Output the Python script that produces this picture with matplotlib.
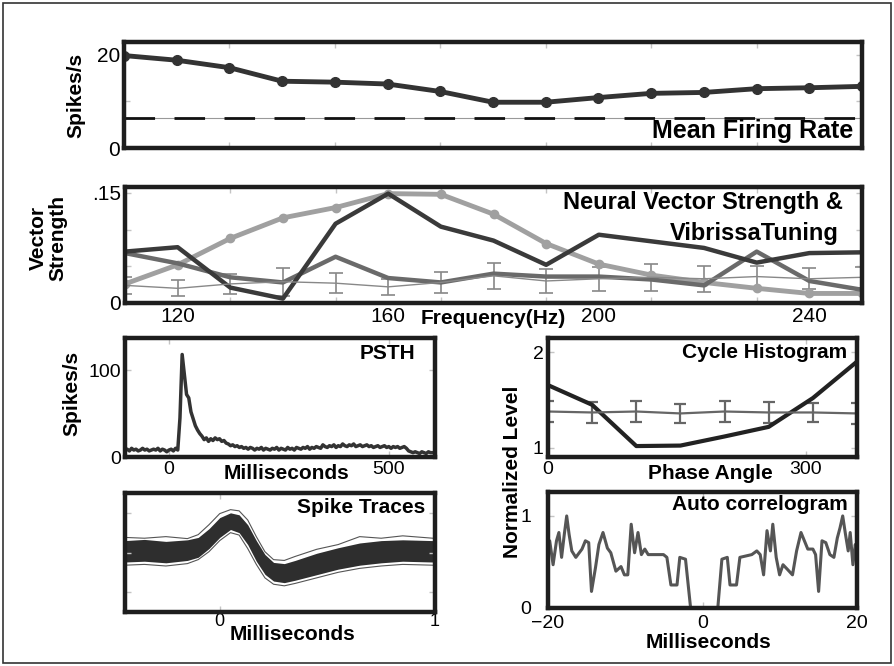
import matplotlib.pyplot as plt
import numpy as np
from matplotlib.patches import Rectangle

plt.rcParams['font.family'] = ['Liberation Sans', 'DejaVu Sans']

# ---- values ----
freq_hz = [110, 120, 130, 140, 150, 160, 170, 180, 190, 200, 210, 220, 230, 240, 250]
mean_rate = [19.8, 18.8, 17.2, 14.3, 14.1, 13.7, 12.1, 9.8, 9.8, 10.8, 11.7, 11.9, 12.7, 12.9, 13.2]
spont_rate = 6.5

vs_light = [0.026, 0.052, 0.088, 0.116, 0.130, 0.149, 0.148, 0.121, 0.081, 0.053, 0.038, 0.028, 0.020, 0.013, 0.013]
vs_dark = [0.070, 0.076, 0.021, 0.006, 0.108, 0.149, 0.104, 0.085, 0.052, 0.093, 0.084, 0.075, 0.055, 0.068, 0.069]
vs_mid = [0.068, 0.054, 0.035, 0.028, 0.063, 0.034, 0.028, 0.040, 0.036, 0.036, 0.032, 0.024, 0.070, 0.030, 0.018]
vs_base = [0.024, 0.020, 0.026, 0.029, 0.027, 0.022, 0.028, 0.037, 0.030, 0.033, 0.035, 0.033, 0.036, 0.033, 0.035]
vs_err = [0.012, 0.011, 0.014, 0.019, 0.014, 0.011, 0.014, 0.018, 0.016, 0.016, 0.018, 0.018, 0.015, 0.014, 0.014]

# PSTH, 5 ms bins starting at -100 ms
psth_rate = [8, 9, 7, 10, 8, 9, 7, 8, 10, 8, 9, 7, 8, 9, 8, 10, 7, 9, 8, 6, 8, 9, 7, 10, 8,
             45, 118, 95, 72, 68, 52, 44, 36, 31, 27, 24, 20, 22, 18, 21, 19, 22, 20, 21, 18,
             19, 16, 15, 13, 14, 12, 13, 11, 12, 10, 11,
             9, 11, 10, 8, 10, 9, 11, 8, 10, 9, 8, 10, 9, 11, 8, 10, 9, 8, 11, 9, 10, 8, 11,
             10, 9, 11, 10, 12, 9, 11, 10, 12, 11, 10,
             14, 12, 11, 13, 12, 14, 11, 13, 12, 15, 13, 12, 14, 13, 15, 12, 13, 14, 12, 13,
             14, 12, 13, 11, 12, 13, 11, 12, 13, 11, 12, 10, 12, 11, 12, 10, 11,
             12, 10, 7, 6, 5, 6, 5, 4, 6, 5, 4, 6, 5, 5]

# spike waveform (ms, arbitrary units)
spike_t = [-0.44, -0.35, -0.25, -0.15, -0.10, -0.05, 0.00, 0.05, 0.09, 0.13, 0.17,
           0.21, 0.25, 0.30, 0.35, 0.45, 0.55, 0.65, 0.75, 0.85, 0.99]
spike_hi = [0.30, 0.33, 0.28, 0.32, 0.38, 0.60, 0.88, 1.00, 0.95, 0.70, 0.30,
            -0.05, -0.25, -0.28, -0.20, -0.02, 0.12, 0.24, 0.30, 0.32, 0.30]
spike_lo = [-0.24, -0.22, -0.26, -0.20, -0.12, 0.10, 0.38, 0.58, 0.50, 0.20, -0.22,
            -0.55, -0.72, -0.76, -0.70, -0.56, -0.42, -0.32, -0.26, -0.22, -0.24]
spike_up_trace = [0.38, 0.36, 0.40, 0.35, 0.45, 0.70, 0.98, 1.08, 1.05, 0.82, 0.40,
                  0.02, -0.18, -0.20, -0.10, 0.08, 0.20, 0.40, 0.36, 0.42, 0.36]
spike_dn_trace = [-0.32, -0.30, -0.34, -0.28, -0.18, 0.02, 0.30, 0.50, 0.44, 0.10, -0.30,
                  -0.64, -0.80, -0.84, -0.78, -0.64, -0.50, -0.40, -0.34, -0.30, -0.32]

phase_deg = [0, 51.4, 102.9, 154.3, 205.7, 257.1, 308.6, 360]
cyc_resp = [1.655, 1.45, 1.02, 1.025, 1.12, 1.22, 1.52, 1.9]
cyc_base = [1.38, 1.37, 1.38, 1.36, 1.38, 1.37, 1.37, 1.36]
cyc_err = [0.11, 0.11, 0.11, 0.10, 0.11, 0.11, 0.10, 0.11]

ac_lag = [-20.0, -19.78, -19.34, -18.90, -18.59, -18.24, -17.89, -17.58, -17.27, -16.92, -16.40,
          -15.60, -15.16, -14.73, -14.37, -13.85, -13.41, -12.88, -12.31, -11.87, -11.21,
          -10.55, -10.11, -9.67, -9.23, -8.79, -8.35, -7.91, -7.47, -7.03, -5.05, -4.61,
          -4.09, -3.30, -2.94, -2.20, -1.54, 1.98, 2.51, 3.21, 3.56, 4.40, 4.84, 6.38,
          7.03, 7.47, 7.91, 8.35, 8.79, 9.10, 9.54, 9.98, 10.42, 10.99, 11.65, 12.18,
          12.75, 13.19, 13.63, 14.29, 14.64, 15.03, 15.47, 15.96, 16.49, 17.01, 17.45,
          17.80, 18.15, 18.51, 18.86, 19.12, 19.47, 19.78, 20.0]
ac_level = [0.60, 0.73, 0.47, 0.73, 0.82, 0.55, 0.80, 1.00, 0.80, 0.62, 0.55,
            0.64, 0.73, 0.71, 0.18, 0.44, 0.69, 0.82, 0.65, 0.60, 0.40,
            0.45, 0.36, 0.36, 0.91, 0.60, 0.82, 0.58, 0.64, 0.58, 0.58, 0.55,
            0.25, 0.25, 0.55, 0.53, 0.0, 0.0, 0.53, 0.55, 0.25, 0.25, 0.55, 0.58,
            0.62, 0.58, 0.36, 0.84, 0.62, 0.91, 0.55, 0.36, 0.47, 0.42, 0.36, 0.62,
            0.82, 0.73, 0.64, 0.64, 0.58, 0.18, 0.73, 0.71, 0.58, 0.55, 0.76,
            0.87, 1.00, 0.80, 0.62, 0.82, 0.47, 0.69, 0.58]

COND = ['Liberation Sans Narrow', 'Liberation Sans', 'DejaVu Sans']
FAINT = '#c4c4c4'


def frame(ax):
    for s in ax.spines.values():
        s.set_linewidth(3.2)
        s.set_color('#1e1e1e')
    ax.tick_params(which='both', direction='in', top=True, right=True,
                   color=FAINT, length=4, width=1, labelsize=14, pad=3)


def main():
    fig = plt.figure(figsize=(8.94, 6.66), dpi=100)
    W, H = 894.0, 666.0

    def add_ax(x0, y0, x1, y1):
        return fig.add_axes([x0 / W, 1 - y1 / H, (x1 - x0) / W, (y1 - y0) / H])

    # ========== Mean firing rate ==========
    ax1 = add_ax(124, 42, 862, 148)
    frame(ax1)
    ax1.plot(freq_hz, mean_rate, color='#333333', lw=3.5, marker='o', ms=7)
    ax1.axhline(spont_rate, color='#999999', lw=0.8)
    ax1.axhline(spont_rate, color='#111111', lw=2, linestyle=(0, (11, 7)))
    ax1.set_xlim(110, 250)
    ax1.set_ylim(0, 22.7)
    ax1.set_xticks(np.arange(130, 251, 20))
    ax1.set_xticklabels([])
    ax1.set_yticks([0, 20])
    ax1.set_yticks([10], minor=True)
    for lbl in ax1.get_yticklabels():
        lbl.set_family(COND)
        lbl.set_fontsize(15)
    ax1.text(0.988, 0.16, 'Mean Firing Rate', transform=ax1.transAxes, ha='right',
             va='center', fontsize=18, fontweight='bold', family=COND)
    fig.text(76 / W, 1 - 95 / H, 'Spikes/s', rotation=90, ha='center', va='center',
             fontsize=15, fontweight='bold')

    # ========== Vector strength ==========
    ax2 = add_ax(125, 187, 862, 303)
    frame(ax2)
    ax2.errorbar(freq_hz, vs_base, yerr=vs_err, color='#888888', lw=1, capsize=5,
                 elinewidth=1.2, capthick=1.2)
    ax2.plot(freq_hz, vs_light, color='#a0a0a0', lw=3.5, marker='o', ms=6)
    ax2.plot(freq_hz, vs_mid, color='#6a6a6a', lw=3.2)
    ax2.plot(freq_hz, vs_dark, color='#3a3a3a', lw=3.2)
    ax2.set_xlim(110, 250)
    ax2.set_ylim(0, 0.158)
    ax2.set_xticks([120, 160, 200, 240])
    ax2.set_xticks(np.arange(130, 251, 20), minor=True)
    ax2.tick_params(axis='x', which='major', length=0)
    ax2.set_yticks([0, 0.15])
    ax2.set_yticklabels(['0', '.15'])
    ax2.set_yticks([0.05, 0.1], minor=True)
    for lbl in ax2.get_xticklabels() + ax2.get_yticklabels():
        lbl.set_family(COND)
        lbl.set_fontsize(15)
    ax2.text(0.5, -0.13, 'Frequency(Hz)', transform=ax2.transAxes, ha='center',
             va='center', fontsize=15, fontweight='bold', family=COND)
    ax2.text(0.974, 0.87, 'Neural Vector Strength &', transform=ax2.transAxes,
             ha='right', va='center', fontsize=17, fontweight='bold', family=COND)
    ax2.text(0.968, 0.60, 'VibrissaTuning', transform=ax2.transAxes,
             ha='right', va='center', fontsize=17, fontweight='bold', family=COND)
    fig.text(48 / W, 1 - 238 / H, 'Vector\nStrength', rotation=90, ha='center',
             va='center', fontsize=15, fontweight='bold', linespacing=1.0)

    # ========== PSTH ==========
    ax3 = add_ax(125, 338, 435, 457)
    frame(ax3)
    psth_t = -100 + 5 * np.arange(len(psth_rate))
    ax3.plot(psth_t, psth_rate, color='#333333', lw=2.5)
    ax3.set_xlim(-100, 605)
    ax3.set_ylim(0, 137)
    ax3.set_xticks([0, 500])
    ax3.set_yticks([0, 100])
    ax3.text(0.935, 0.866, 'PSTH', transform=ax3.transAxes, ha='right', va='center',
             fontsize=15, fontweight='bold')
    ax3.text(0.52, -0.14, 'Milliseconds', transform=ax3.transAxes, ha='center',
             va='center', fontsize=15, fontweight='bold')
    fig.text(72 / W, 1 - 393 / H, 'Spikes/s', rotation=90, ha='center', va='center',
             fontsize=15, fontweight='bold')

    # ========== Spike traces ==========
    ax4 = add_ax(125, 493, 435, 612)
    frame(ax4)
    ax4.fill_between(spike_t, spike_lo, spike_hi, color='#2e2e2e', lw=0)
    ax4.plot(spike_t, spike_up_trace, color='#555555', lw=0.8)
    ax4.plot(spike_t, spike_dn_trace, color='#555555', lw=0.8)
    ax4.set_xlim(-0.44, 1.0)
    ax4.set_ylim(-1.5, 1.5)
    ax4.set_xticks([0, 1])
    ax4.set_yticks([-1, 0, 1])
    ax4.set_yticklabels([])
    ax4.tick_params(axis='x', labelsize=13, pad=1)
    ax4.text(0.968, 0.88, 'Spike Traces', transform=ax4.transAxes, ha='right',
             va='center', fontsize=15, fontweight='bold')
    ax4.text(0.54, -0.19, 'Milliseconds', transform=ax4.transAxes, ha='center',
             va='center', fontsize=15, fontweight='bold')

    # ========== Cycle histogram ==========
    ax5 = add_ax(548, 338, 857, 457)
    frame(ax5)
    ax5.errorbar(phase_deg, cyc_base, yerr=cyc_err, color='#666666', lw=1.6,
                 capsize=4, elinewidth=1.6, capthick=1.6)
    ax5.plot(phase_deg, cyc_resp, color='#222222', lw=3)
    ax5.set_xlim(0, 360)
    ax5.set_ylim(0.906, 2.146)
    ax5.set_xticks([0, 300])
    ax5.set_yticks([1, 2])
    ax5.text(0.968, 0.88, 'Cycle Histogram', transform=ax5.transAxes, ha='right',
             va='center', fontsize=15, fontweight='bold')
    ax5.text(0.524, -0.14, 'Phase Angle', transform=ax5.transAxes, ha='center',
             va='center', fontsize=15, fontweight='bold')

    # ========== Auto correlogram ==========
    ax6 = add_ax(548, 492, 857, 608)
    frame(ax6)
    ax6.plot(ac_lag, ac_level, color='#555555', lw=2.2)
    ax6.set_xlim(-20, 20)
    ax6.set_ylim(0, 1.26)
    ax6.set_xticks([-20, 0, 20])
    ax6.set_yticks([0, 1])
    ax6.tick_params(axis='x', pad=5)
    ax6.tick_params(axis='y', pad=12)
    ax6.text(0.97, 0.89, 'Auto correlogram', transform=ax6.transAxes, ha='right',
             va='center', fontsize=15, fontweight='bold')
    ax6.text(0.518, -0.30, 'Milliseconds', transform=ax6.transAxes, ha='center',
             va='center', fontsize=15, fontweight='bold')

    fig.text(512 / W, 1 - 472 / H, 'Normalized Level', rotation=90, ha='center',
             va='center', fontsize=15, fontweight='bold')

    # thin outer frame
    fig.patches.append(Rectangle((3 / W, 3 / H), 1 - 6 / W, 1 - 6 / H,
                                 transform=fig.transFigure, fill=False,
                                 lw=1.2, ec='#333333'))

    fig.savefig('out.png', dpi=100)


if __name__ == '__main__':
    main()
